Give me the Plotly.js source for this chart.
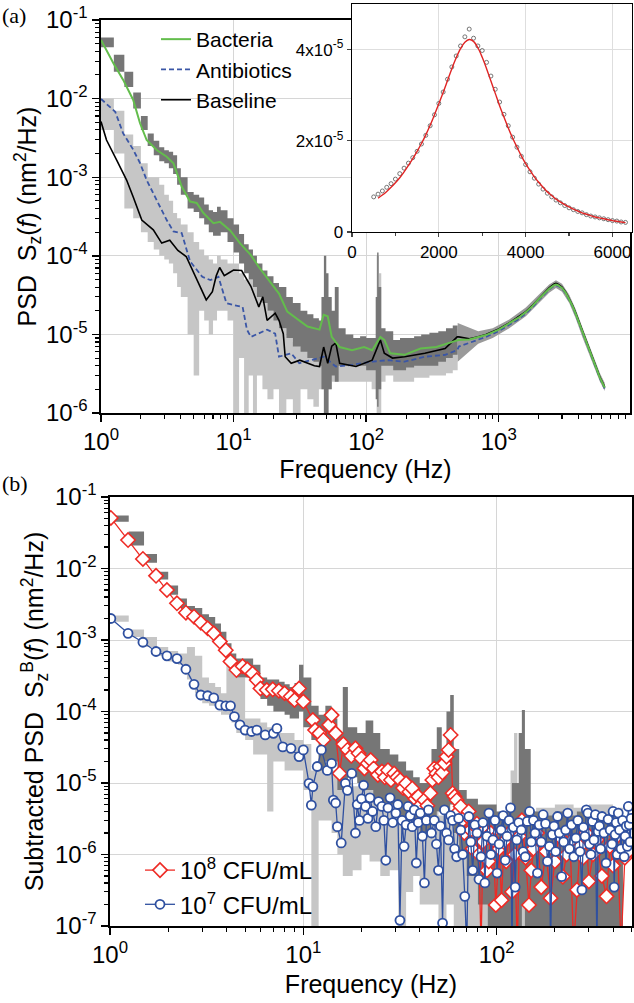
<!DOCTYPE html>
<html>
<head>
<meta charset="utf-8">
<script src="https://cdn.plot.ly/plotly-3.0.1.min.js"></script>
<style>html,body{margin:0;padding:0;background:#fff;}#chart{width:634px;height:1003px;}</style>
</head>
<body>
<div id="chart"></div>
<script>
// ---------------- Panel (a): PSD, low-frequency part (Hz, nm^2/Hz) ----------------
const aBacteriaF = [1.00,1.24,1.47,1.75,1.97,2.21,2.63,3.13,3.52,4.06,
  4.70,5.27,5.92,7.05,7.91,9.42,11.2,13.5,15.5,18.5,
  22.0,25.4,30.2,36.1,44.5,47.8,51.3,55.0,63.1,78.2,
  96.4,111,128,137,152,195,257,339,453];
const aBacteriaS = [5.57e-2,2.81e-2,1.73e-2,9.6e-3,4.85e-3,2.97e-3,2.22e-3,1.82e-3,1.50e-3,7.6e-4,
  4.9e-4,4.7e-4,3.5e-4,2.6e-4,2.7e-4,2.1e-4,1.44e-4,1.02e-4,7.2e-5,4.9e-5,
  3.3e-5,1.95e-5,1.58e-5,1.26e-5,1.15e-5,1.78e-5,1.7e-5,9.3e-6,6.9e-6,6.3e-6,
  6.9e-6,6.3e-6,9.3e-6,8.5e-6,5.75e-6,5.5e-6,6.6e-6,6.9e-6,8.1e-6];

const aAntibioticsF = [1.00,1.17,1.28,1.47,1.75,1.97,2.21,2.63,3.13,3.52,
  4.06,4.44,4.70,5.81,6.68,7.69,8.83,10.2,11.7,12.6,
  13.5,17.9,20.6,22.0,27.2,31.3,38.6,47.8,59.0,78.2,
  111,147,195,277,394,486];
const aAntibioticsS = [9.9e-3,7.9e-3,6.8e-3,3.6e-3,2.24e-3,1.51e-3,9.2e-4,5.1e-4,2.85e-4,2.04e-4,
  1.95e-4,1.17e-4,8.5e-5,5.4e-5,4.9e-5,5.4e-5,2.5e-5,2.34e-5,2.24e-5,1.15e-5,
  9.3e-6,1.15e-5,1.02e-5,5.2e-6,5.75e-6,4.3e-6,4.7e-6,5.2e-6,3.9e-6,4.1e-6,
  4.5e-6,4.7e-6,4.5e-6,5.2e-6,5.5e-6,6.3e-6];

const aBaselineF = [1.00,1.10,1.31,1.56,1.75,2.03,2.48,2.87,3.30,3.80,
  4.39,5.05,5.81,6.22,6.92,7.41,7.85,8.51,9.12,10.0,
  11.5,12.6,13.5,15.5,16.6,17.9,20.6,22.0,23.7,24.5,
  27.2,31.6,36.1,40.7,44.5,47.8,51.3,55.0,59.0,63.1,
  83.8,111,128,137,158,195,277,394,486];
const aBaselineS = [5.1e-3,2.97e-3,1.66e-3,9.2e-4,5.6e-4,2.85e-4,2.14e-4,1.45e-4,1.58e-4,1.17e-4,
  9.8e-5,6.0e-5,3.6e-5,2.75e-5,3.5e-5,5.6e-5,7.1e-5,5.6e-5,6.0e-5,6.6e-5,
  6.5e-5,5.0e-5,4.1e-5,2.24e-5,3.0e-5,1.51e-5,1.86e-5,1.51e-5,1.02e-5,5.2e-6,
  4.3e-6,4.7e-6,4.3e-6,4.0e-6,3.9e-6,6.9e-6,4.3e-6,7.1e-6,7.8e-6,4.3e-6,
  3.9e-6,4.7e-6,8.5e-6,5.75e-6,5.0e-6,5.2e-6,5.75e-6,6.6e-6,9.3e-6];

// ---------------- Panel (a): resonance part (Hz) ----------------
const aHighF = [500,600,700,800,1000,1200,1400,1600,1800,2000,2200,2400,2600,2700,
  2800,3000,3200,3400,3600,3800,4000,4300,4600,5000,5400,5800,6300];
const aBacteriaHigh = [0.85e-5,0.86e-5,0.92e-5,0.98e-5,1.15e-5,1.38e-5,1.62e-5,1.92e-5,2.30e-5,2.80e-5,3.30e-5,3.80e-5,4.20e-5,4.30e-5,
  4.22e-5,3.90e-5,3.38e-5,2.82e-5,2.30e-5,1.84e-5,1.46e-5,1.03e-5,0.76e-5,0.52e-5,0.37e-5,0.28e-5,0.21e-5];
const aBaselineHigh = [0.93e-5,0.88e-5,0.93e-5,1.00e-5,1.17e-5,1.40e-5,1.65e-5,1.95e-5,2.35e-5,2.86e-5,3.38e-5,3.90e-5,4.35e-5,4.45e-5,
  4.35e-5,4.00e-5,3.45e-5,2.88e-5,2.35e-5,1.88e-5,1.49e-5,1.05e-5,0.78e-5,0.53e-5,0.38e-5,0.285e-5,0.215e-5];
const aAntibioticsHigh = [0.70e-5,0.78e-5,0.86e-5,0.93e-5,1.10e-5,1.32e-5,1.55e-5,1.85e-5,2.22e-5,2.72e-5,3.22e-5,3.72e-5,4.12e-5,4.22e-5,
  4.15e-5,3.85e-5,3.33e-5,2.78e-5,2.27e-5,1.82e-5,1.44e-5,1.02e-5,0.75e-5,0.51e-5,0.365e-5,0.275e-5,0.205e-5];

// ---------------- Panel (a): spread bands ----------------
const aDarkF  = [1.0,1.25,1.5,1.75,2.0,2.25,2.5,2.75,3.0,3.25,3.5,3.75,
  4.0,4.5,5.0,5.5,6.0,6.5,7.0,7.5,8.0,
  9.0,10,11,12,13,14,15,
  16.5,18,20,22,25,28,32,36,40,44,
  46,48,50,52,55,58,62,
  70,80,90,100,110,
  118,121,124,130,140,
  160,180,200,230,260,300,350,400,450,490];
const aDarkLo = [4.5e-2,2.2e-2,1.4e-2,7.5e-3,4.0e-3,2.5e-3,1.9e-3,1.6e-3,1.5e-3,1.3e-3,1.1e-3,8.0e-4,
  6.0e-4,4.0e-4,3.6e-4,3.0e-4,2.5e-4,2.0e-4,1.8e-4,1.8e-4,2.0e-4,
  1.5e-4,1.1e-4,8.0e-5,6.0e-5,5.0e-5,4.0e-5,3.0e-5,
  2.5e-5,2.0e-5,1.5e-5,1.2e-5,9.0e-6,7.0e-6,6.0e-6,5.0e-6,4.5e-6,4.0e-6,
  2.0e-6,6.0e-7,8.0e-7,2.0e-6,3.0e-6,2.5e-6,4.0e-6,
  4.0e-6,4.0e-6,4.0e-6,3.5e-6,3.5e-6,
  1.5e-6,1.2e-6,2.0e-6,4.0e-6,4.0e-6,
  3.5e-6,3.5e-6,3.8e-6,4.0e-6,4.0e-6,4.0e-6,4.5e-6,5.0e-6,5.5e-6,6.0e-6];
const aDarkHi = [6.0e-2,3.6e-2,2.2e-2,1.2e-2,6.0e-3,3.6e-3,2.9e-3,2.4e-3,2.2e-3,2.1e-3,1.9e-3,1.3e-3,
  1.0e-3,6.5e-4,6.0e-4,5.5e-4,4.5e-4,3.8e-4,3.6e-4,4.2e-4,3.8e-4,
  3.0e-4,2.5e-4,1.9e-4,1.4e-4,1.2e-4,1.0e-4,8.0e-5,
  6.5e-5,5.5e-5,4.5e-5,4.0e-5,3.0e-5,2.5e-5,2.0e-5,1.8e-5,1.6e-5,1.5e-5,
  3.0e-5,1.0e-4,6.0e-5,3.0e-5,2.0e-5,4.0e-5,1.2e-5,
  1.0e-5,9.0e-6,9.5e-6,9.0e-6,9.0e-6,
  3.0e-5,1.1e-4,4.0e-5,1.2e-5,1.1e-5,
  8.5e-6,9.0e-6,9.0e-6,9.5e-6,1.0e-5,1.05e-5,1.1e-5,1.2e-5,1.3e-5,1.4e-5];

const aLightF  = [1.0,1.25,1.5,1.75,2.0,2.25,2.5,2.75,3.0,3.25,3.5,3.75,
  4.0,4.5,5.0,5.5,6.0,6.5,7.0,7.5,8.0,
  9.0,10,11,12,13,14,15,
  16.5,18,20,22,25,28,32,36,40,44,
  48,52,55,60,
  70,80,90,100,110,
  120,125,130,140,
  160,180,200,230,260,300,350,400,450,490];
const aLightLo = [4.0e-3,2.0e-3,4.0e-4,3.0e-4,2.0e-4,1.5e-4,1.2e-4,1.0e-4,9.0e-5,8.0e-5,6.0e-5,4.0e-5,
  3.0e-5,1.0e-5,3.0e-6,2.0e-5,1.5e-5,1.0e-5,1.5e-5,2.0e-5,2.0e-5,
  1.5e-5,1.0e-6,5.0e-6,9.0e-7,3.0e-6,8.0e-7,3.0e-6,
  2.0e-6,1.5e-6,2.0e-6,1.0e-6,1.5e-6,1.0e-6,2.0e-6,1.5e-6,1.2e-6,2.0e-6,
  1.0e-6,2.0e-6,2.5e-6,2.5e-6,
  2.5e-6,2.5e-6,2.5e-6,2.5e-6,2.0e-6,
  1.0e-6,8.0e-7,2.5e-6,3.0e-6,
  2.5e-6,2.5e-6,2.5e-6,2.8e-6,2.8e-6,3.0e-6,3.0e-6,3.2e-6,3.5e-6,4.0e-6];
const aLightHi = [1.0e-2,7.0e-3,3.5e-3,2.5e-3,1.5e-3,1.0e-3,1.0e-3,8.0e-4,6.0e-4,5.0e-4,3.5e-4,3.0e-4,
  2.5e-4,2.0e-4,1.5e-4,1.2e-4,1.0e-4,9.0e-5,8.0e-5,1.0e-4,9.0e-5,
  8.0e-5,8.0e-5,6.0e-5,5.0e-5,5.0e-5,4.0e-5,3.0e-5,
  2.5e-5,2.0e-5,1.8e-5,1.2e-5,9.0e-6,8.0e-6,7.0e-6,7.0e-6,7.0e-6,7.0e-6,
  1.0e-5,8.0e-6,8.0e-6,1.0e-5,
  7.0e-6,7.0e-6,7.5e-6,7.0e-6,7.0e-6,
  1.0e-4,6.0e-5,1.0e-5,8.0e-6,
  7.5e-6,7.0e-6,7.5e-6,8.0e-6,8.0e-6,8.5e-6,9.0e-6,9.5e-6,1.0e-5,1.1e-5];

const aHighBandF  = [490,700,900,1200,1600,2000,2400,2700,3000,3400,3800,4300,5000,5800,6300];
const aHighBandLo = [4.5e-6,7.6e-6,9.0e-6,1.2e-5,1.7e-5,2.5e-5,3.4e-5,3.9e-5,3.5e-5,2.5e-5,1.6e-5,9.0e-6,4.6e-6,2.5e-6,1.9e-6];
const aHighBandHi = [1.4e-5,1.1e-5,1.2e-5,1.55e-5,2.2e-5,3.2e-5,4.3e-5,4.9e-5,4.4e-5,3.2e-5,2.1e-5,1.2e-5,6.0e-6,3.2e-6,2.4e-6];

// ---------------- Inset (linear) ----------------
const insetF = [500,600,700,800,900,1000,1100,1200,1300,1400,
  1500,1600,1700,1800,1900,2000,2100,2200,2300,2400,
  2500,2600,2700,2800,2900,3000,3100,3200,3300,3400,
  3500,3600,3700,3800,3900,4000,4100,4200,4300,4400,
  4500,4600,4700,4800,4900,5000,5100,5200,5300,5400,
  5500,5600,5700,5800,5900,6000,6100,6200,6300];
const insetS = [0.77e-5,0.83e-5,0.90e-5,0.98e-5,1.06e-5,1.16e-5,1.28e-5,1.40e-5,1.51e-5,1.63e-5,
  1.77e-5,1.93e-5,2.12e-5,2.33e-5,2.57e-5,2.82e-5,3.07e-5,3.35e-5,3.62e-5,3.86e-5,
  4.08e-5,4.28e-5,4.45e-5,4.25e-5,4.08e-5,3.98e-5,3.72e-5,3.42e-5,3.13e-5,2.85e-5,
  2.58e-5,2.33e-5,2.08e-5,1.86e-5,1.66e-5,1.48e-5,1.32e-5,1.18e-5,1.05e-5,0.94e-5,
  0.85e-5,0.77e-5,0.70e-5,0.64e-5,0.58e-5,0.53e-5,0.49e-5,0.45e-5,0.42e-5,0.38e-5,
  0.35e-5,0.33e-5,0.31e-5,0.29e-5,0.27e-5,0.25e-5,0.24e-5,0.22e-5,0.21e-5];
const fitF = [600,700,800,900,1000,1100,1200,1300,1400,1500,
  1600,1700,1800,1900,2000,2100,2200,2300,2400,2500,
  2600,2700,2800,2900,3000,3100,3200,3300,3400,3500,
  3600,3700,3800,3900,4000,4100,4200,4300,4400,4500,
  4600,4700,4800,4900,5000,5100,5200,5300,5400,5500,
  5600,5700,5800,5900,6000,6100,6200,6300];
const fitS = [0.74e-5,0.81e-5,0.89e-5,0.98e-5,1.08e-5,1.19e-5,1.32e-5,1.46e-5,1.61e-5,1.77e-5,
  1.94e-5,2.13e-5,2.34e-5,2.57e-5,2.81e-5,3.06e-5,3.32e-5,3.58e-5,3.82e-5,4.02e-5,
  4.16e-5,4.22e-5,4.18e-5,4.04e-5,3.83e-5,3.58e-5,3.31e-5,3.04e-5,2.77e-5,2.52e-5,
  2.28e-5,2.06e-5,1.86e-5,1.67e-5,1.50e-5,1.35e-5,1.21e-5,1.09e-5,0.98e-5,0.88e-5,
  0.80e-5,0.72e-5,0.66e-5,0.60e-5,0.55e-5,0.50e-5,0.46e-5,0.42e-5,0.39e-5,0.36e-5,
  0.33e-5,0.31e-5,0.29e-5,0.27e-5,0.25e-5,0.235e-5,0.22e-5,0.205e-5];

// ---------------- Panel (b): subtracted PSD ----------------
const bRedF = [1.01,1.24,1.48,1.73,1.97,2.22,2.47,2.72,2.95,3.20,
  3.44,3.70,3.97,4.20,4.51,4.85,5.13,5.46,5.74,6.00,
  6.47,6.95,7.47,8.00,8.60,9.00,9.50,10.0,11.2,11.5,
  12.1,12.7,13.6,14.0,14.7,15.4,16.1,16.9,17.7,18.6,
  19.3,20.0,20.7,21.5,22.3,23.1,24.3,25.5,26.4,27.4,
  28.4,29.5,30.6,31.7,32.8,34.0,35.3,36.6,37.9,39.3,
  40.7,42.2,43.8,45.4,46.5,47.6,48.8,50.0,51.2,52.4,
  53.7,55.0,56.4,57.8,59.2,60.6,62.1,63.6,65.2,66.6,
  68.0,69.8,71.7,73.3,75.0,77.0,79.0,81.0,83.0,85.0,
  86.9,89.0,91.0,93.3,95.7,99.0,103,106,109,112,
  116,120,124,128,131,135,141,147,151,155,
  162,170,180,190,200,210,220,230,240,250,
  260,270,280,290,300,315,330,350,370,385,
  400,420,440,460,480,495];
const bRedS = [5.1e-2,2.5e-2,1.36e-2,7.9e-3,5.0e-3,3.26e-3,2.41e-3,2.12e-3,1.75e-3,1.46e-3,
  1.24e-3,9.5e-4,7.2e-4,5.0e-4,3.8e-4,4.3e-4,3.9e-4,3.4e-4,2.75e-4,2.1e-4,
  2.0e-4,2.04e-4,1.95e-4,1.8e-4,1.62e-4,1.45e-4,2.1e-4,1.38e-4,7.6e-5,5.5e-5,
  4.95e-5,4.0e-5,6.5e-5,8.9e-5,4.95e-5,1.36e-5,3.5e-5,2.9e-5,2.4e-5,3.05e-5,
  2.6e-5,2.2e-5,1.6e-5,1.88e-5,2.1e-5,1.6e-5,1.3e-5,1.45e-5,1.2e-5,1.51e-5,
  1.1e-5,1.36e-5,1.2e-5,1.1e-5,8.5e-6,9.9e-6,7.5e-6,8.4e-6,6.0e-6,6.5e-6,
  5.0e-6,5.75e-6,4.8e-6,7.2e-6,1.1e-5,1.6e-5,1.36e-5,1.2e-5,1.7e-5,1.4e-5,
  1.88e-5,2.34e-5,2.9e-5,4.7e-5,7.2e-6,6.5e-6,5.75e-6,4.0e-6,4.7e-6,3.0e-6,
  2.0e-6,3.5e-6,4.0e-6,2.2e-6,1.2e-6,2.5e-6,2.7e-6,1.0e-6,5e-8,1.5e-6,
  2.2e-6,6e-7,8e-7,2.0e-6,1.6e-6,1.97e-7,1.2e-6,2.3e-7,1.5e-6,8e-7,
  2.0e-6,3.0e-7,1.0e-6,5e-8,1.8e-6,3.0e-6,9e-7,1.97e-7,6e-7,1.2e-6,
  2.0e-6,3.5e-7,1.1e-6,2.45e-7,8e-7,1.8e-6,4.9e-7,1.0e-6,1.5e-6,5e-8,
  3.2e-7,1.3e-6,9e-7,2.0e-6,4.2e-7,1.0e-6,1.6e-6,5e-7,2.6e-7,1.3e-6,
  7e-7,1.8e-6,5e-8,9e-7,1.1e-6,2.0e-6];

const bBlueF = [1.01,1.24,1.48,1.73,1.97,2.22,2.47,2.72,2.95,3.20,
  3.44,3.70,3.97,4.20,4.40,4.70,5.00,5.40,5.75,6.35,
  7.00,7.30,7.83,8.63,9.50,10.0,10.7,11.0,11.2,11.8,
  12.4,13.3,14.0,14.3,14.7,15.0,15.7,16.5,16.9,17.8,
  18.6,19.0,19.5,20.0,20.5,21.0,21.6,22.1,22.8,23.7,
  24.5,25.5,26.1,26.7,27.4,28.1,29.0,30.1,30.8,31.6,
  32.4,33.2,34.0,34.8,35.7,36.6,37.5,38.4,39.3,40.3,
  41.3,42.3,43.3,44.4,46.0,47.6,48.8,50.0,51.2,52.5,
  53.7,55.0,56.4,57.8,59.2,60.6,62.1,63.6,65.2,66.8,
  68.4,70.0,71.8,73.5,75.2,77.1,79.1,81.0,83.0,84.9,
  86.9,89.0,91.2,93.4,95.7,98.0,100.5,103,105.4,108,
  110.7,113,116,118,120,122,124.7,127,130,134,
  137,140.6,144,148,151,155,158,162.5,166,170,
  174,179,183,187.5,190,194,198,202,206.5,211,
  216.8,222,227.5,233,238,244,250.6,257,263,270,
  276,281,286,291,296.5,302,307,313,318.4,324,
  330,335,340,345,350.8,359,368,377,386.4,395,
  400,405.5,410,415,420,425.6,432,440,448,457,
  462,468,474,479.7,485,490,496];
const bBlueS = [2.0e-3,1.24e-3,9.3e-4,6.9e-4,6.0e-4,5.5e-4,3.9e-4,2.4e-4,1.7e-4,1.66e-4,
  1.55e-4,1.23e-4,1.2e-4,1.2e-4,8.5e-5,6.5e-5,5.5e-5,5.25e-5,5.5e-5,4.7e-5,
  4.95e-5,5.8e-5,3.2e-5,3.05e-5,2.34e-5,2.9e-5,9.9e-6,4.9e-6,8.9e-6,1.7e-5,
  2.9e-5,1.5e-5,1.88e-5,5.75e-6,5.25e-6,2.45e-6,1.45e-6,9.9e-6,7.9e-6,1.36e-5,
  2.0e-6,5.0e-6,3.0e-6,6.0e-6,9.3e-6,4.7e-6,3.2e-6,6.2e-6,4.0e-6,2.45e-6,
  5.5e-6,4.7e-6,3.0e-6,8.3e-7,4.5e-6,6.2e-6,2.8e-6,3.8e-6,5.0e-6,1.2e-7,
  3.0e-6,1.3e-6,2.6e-6,4.7e-6,3.5e-6,2.45e-6,4.2e-6,7.6e-7,2.8e-6,3.8e-6,
  1.8e-6,4.0e-7,3.0e-6,4.2e-6,2.0e-6,3.0e-6,1.4e-6,6.0e-7,2.5e-6,1.1e-7,
  4.2e-6,2.0e-6,1.6e-6,3.5e-6,3.0e-6,1.2e-6,9.3e-7,3.2e-6,2.2e-6,1.0e-6,
  2.6e-7,5e-8,3.4e-6,1.5e-6,6.0e-7,2.6e-6,2.0e-6,4.5e-7,9.3e-7,2.8e-6,
  4.0e-7,1.8e-6,3.8e-6,1.0e-6,1.6e-6,3.0e-6,5.5e-7,1.4e-6,2.2e-6,3.5e-6,
  8.3e-7,1.8e-6,3.0e-6,4.5e-6,5e-8,2.4e-6,3.5e-7,1.6e-6,2.8e-6,2.2e-6,
  1.1e-6,9.3e-7,2.9e-6,4.0e-6,1.5e-6,3.0e-6,2.0e-6,5.5e-7,2.6e-6,1.5e-6,
  3.6e-6,2.7e-6,8e-7,1.3e-6,5e-8,1.9e-6,2.5e-6,1.1e-6,3.4e-6,2.0e-6,
  4.9e-7,1.5e-6,2.2e-6,3.8e-6,1.2e-6,2.6e-6,9.3e-7,1.7e-6,3.0e-6,1.1e-6,
  3.2e-7,2.4e-6,1.8e-6,4.2e-6,3.8e-6,1.4e-6,1.0e-6,2.9e-6,1.6e-6,3.6e-6,
  5e-8,2.1e-6,2.5e-6,1.2e-6,3.4e-6,2.0e-6,7.6e-7,3.1e-6,2.2e-6,1.4e-6,
  4.0e-6,3.5e-7,1.9e-6,2.8e-6,1.0e-6,3.8e-6,2.2e-6,1.2e-6,3.0e-6,9.3e-7,
  1.8e-6,2.5e-6,1.3e-6,4.7e-6,2.6e-6,1.5e-6,3.2e-6];

const bDarkF  = [1.0,1.25,1.5,1.75,2.0,2.25,2.5,2.75,3.0,3.25,3.5,3.75,
  4.0,4.25,4.5,
  5.0,5.5,6.0,6.5,7.0,7.5,8.0,8.5,9.0,9.5,
  10,11,12,13,14,15,16,17,19,21,23,25,
  28,31,34,37,40,43,46,49,52,55,57.5,60,64,
  70,80,90,100,110,120,130,135,140,150,
  170,200,230,260,300,350,400,450];
const bDarkLo = [4.5e-2,2.1e-2,1.2e-2,7.0e-3,4.3e-3,2.8e-3,2.0e-3,1.7e-3,1.4e-3,1.1e-3,9.0e-4,7.0e-4,
  5.5e-4,3.5e-4,3.0e-4,
  3.0e-4,2.5e-4,1.5e-4,1.2e-4,1.0e-4,1.0e-4,9.0e-5,8.0e-5,8.0e-5,1.0e-4,
  6.0e-5,4.0e-5,1.5e-5,2.0e-5,2.0e-5,8.0e-6,1.0e-5,1.2e-5,1.0e-5,8.0e-6,6.0e-6,5.0e-6,
  5.0e-6,3.0e-6,3.0e-6,2.5e-6,2.0e-6,2.0e-6,3.0e-6,4.0e-6,4.0e-6,4.0e-6,5.0e-6,2.0e-6,1.0e-6,
  5.0e-7,2.0e-7,5e-8,5e-8,5e-8,5e-8,5e-8,2.0e-7,5e-8,5e-8,
  5e-8,5e-8,5e-8,5e-8,5e-8,5e-8,5e-8,5e-8];
const bDarkHi = [5.5e-2,3.3e-2,1.6e-2,9.0e-3,5.8e-3,3.8e-3,3.0e-3,2.8e-3,2.3e-3,2.1e-3,1.7e-3,1.3e-3,
  9.0e-4,6.5e-4,5.5e-4,
  5.5e-4,4.5e-4,3.0e-4,2.8e-4,2.8e-4,2.6e-4,2.4e-4,2.2e-4,2.5e-4,4.5e-4,
  3.0e-4,1.2e-4,9.0e-5,1.2e-4,8.0e-5,5.0e-5,2.2e-4,6.0e-5,5.0e-5,7.5e-5,5.0e-5,3.0e-5,
  2.5e-5,2.0e-5,1.5e-5,1.2e-5,1.0e-5,1.0e-5,3.0e-5,6.0e-5,2.5e-5,1.0e-4,1.7e-4,3.0e-5,8.0e-6,
  6.0e-6,5.0e-6,5.0e-6,4.0e-6,4.0e-6,1.0e-5,5.0e-5,1.05e-4,3.0e-5,4.0e-6,
  3.5e-6,4.0e-6,3.5e-6,4.0e-6,3.5e-6,3.5e-6,4.0e-6,4.0e-6];

const bLightF  = [1.0,1.25,1.5,1.75,2.0,2.25,2.5,2.75,3.0,3.25,3.5,3.75,
  4.0,4.25,4.5,
  5.0,5.5,6.0,6.5,7.0,7.5,8.0,
  9.0,10,11,12,13,14,15,16,
  18,20,22,25,28,31,34,37,40,45,
  50,55,60,70,80,90,100,110,
  118,123,128,140,160,200,250,300,350,400,450];
const bLightLo = [1.8e-3,1.1e-3,8.0e-4,6.0e-4,5.0e-4,4.5e-4,2.8e-4,1.8e-4,1.3e-4,1.2e-4,1.1e-4,9.0e-5,
  9.0e-5,7.0e-5,5.0e-5,
  4.0e-5,2.5e-5,2.5e-5,4.0e-6,2.0e-5,2.0e-5,1.5e-5,
  1.5e-5,8.0e-6,5e-8,3.0e-6,3.0e-6,2.0e-6,1.0e-6,5.0e-7,
  6.0e-7,1.0e-6,8.0e-7,5.0e-7,6.0e-7,5e-8,3.0e-7,5.0e-7,2.0e-7,2.0e-7,
  1.0e-7,2.0e-7,5e-8,5e-8,5e-8,5e-8,5e-8,5e-8,
  5e-8,5e-8,5e-8,5e-8,5e-8,5e-8,5e-8,5e-8,5e-8,5e-8,5e-8];
const bLightHi = [2.2e-3,1.4e-3,1.1e-3,8.0e-4,7.0e-4,6.5e-4,8.0e-4,6.0e-4,3.0e-4,2.5e-4,2.2e-4,1.8e-4,
  7.0e-4,5.0e-4,3.0e-4,
  8.0e-5,8.0e-5,7.0e-5,6.0e-5,6.0e-5,5.0e-5,5.0e-5,
  4.0e-5,3.5e-5,1.5e-5,2.5e-5,2.0e-5,1.5e-5,1.2e-5,1.0e-5,
  9.0e-6,1.2e-5,8.0e-6,6.0e-6,6.0e-6,5.0e-6,5.0e-6,4.0e-6,4.0e-6,4.0e-6,
  3.5e-6,3.5e-6,3.0e-6,3.0e-6,3.0e-6,3.5e-6,3.5e-6,4.0e-6,
  1.5e-5,5.0e-5,8.0e-6,4.0e-6,4.5e-6,5.0e-6,4.5e-6,5.0e-6,5.0e-6,4.5e-6,5.0e-6];

// ---------------- tick labels ----------------
const aXTickVals = [1,10,100,1000];
const aXTickText = ['10<sup>0</sup>','10<sup>1</sup>','10<sup>2</sup>','10<sup>3</sup>'];
const aYTickVals = [1e-1,1e-2,1e-3,1e-4,1e-5,1e-6];
const aYTickText = ['10<sup>-1</sup>','10<sup>-2</sup>','10<sup>-3</sup>','10<sup>-4</sup>','10<sup>-5</sup>','10<sup>-6</sup>'];
const bXTickVals = [1,10,100];
const bXTickText = ['10<sup>0</sup>','10<sup>1</sup>','10<sup>2</sup>'];
const bYTickVals = [1e-1,1e-2,1e-3,1e-4,1e-5,1e-6,1e-7];
const bYTickText = ['10<sup>-1</sup>','10<sup>-2</sup>','10<sup>-3</sup>','10<sup>-4</sup>','10<sup>-5</sup>','10<sup>-6</sup>','10<sup>-7</sup>'];
const inXTickVals = [0,2000,4000,6000];
const inYTickVals = [0,2e-5,4e-5];
const inYTickText = ['0','2x10<sup>-5</sup>','4x10<sup>-5</sup>'];

// ---------------- build ----------------
function band(f, lo, hi, color, xa, ya) {
  return [
    {x: f, y: lo, xaxis: xa, yaxis: ya, type: 'scatter', mode: 'lines',
     line: {width: 0, shape: 'hv'}, showlegend: false, hoverinfo: 'skip'},
    {x: f, y: hi, xaxis: xa, yaxis: ya, type: 'scatter', mode: 'lines',
     line: {width: 0, shape: 'hv'}, fill: 'tonexty', fillcolor: color, showlegend: false, hoverinfo: 'skip'}
  ];
}
const LIGHT = '#c6c6c6', DARK = '#767676';
const traces = [];
traces.push(...band(aLightF, aLightLo, aLightHi, LIGHT, 'x', 'y'));
traces.push(...band(aDarkF, aDarkLo, aDarkHi, DARK, 'x', 'y'));
traces.push({x: aHighBandF.concat(aHighBandF.slice().reverse()),
             y: aHighBandLo.concat(aHighBandHi.slice().reverse()),
             xaxis: 'x', yaxis: 'y', mode: 'lines', fill: 'toself', fillcolor: '#9a9a9a',
             line: {width: 0}, showlegend: false, hoverinfo: 'skip'});
traces.push({x: aAntibioticsF.concat(aHighF), y: aAntibioticsS.concat(aAntibioticsHigh),
             xaxis: 'x', yaxis: 'y', mode: 'lines', name: 'Antibiotics', legend: 'legend', legendrank: 2,
             line: {color: '#3a56a6', width: 1.8, dash: '5px,3px'}});
traces.push({x: aBaselineF.concat(aHighF), y: aBaselineS.concat(aBaselineHigh),
             xaxis: 'x', yaxis: 'y', mode: 'lines', name: 'Baseline', legend: 'legend', legendrank: 3,
             line: {color: '#000000', width: 1.6}});
traces.push({x: aBacteriaF.concat(aHighF), y: aBacteriaS.concat(aBacteriaHigh),
             xaxis: 'x', yaxis: 'y', mode: 'lines', name: 'Bacteria', legend: 'legend', legendrank: 1,
             line: {color: '#63bd4c', width: 2}});
// panel b
traces.push(...band(bLightF, bLightLo, bLightHi, LIGHT, 'x2', 'y2'));
traces.push(...band(bDarkF, bDarkLo, bDarkHi, DARK, 'x2', 'y2'));
traces.push({x: bRedF, y: bRedS, xaxis: 'x2', yaxis: 'y2', mode: 'lines+markers',
             name: '10<sup>8</sup> CFU/mL', legend: 'legend2', legendrank: 1,
             line: {color: '#ee2b25', width: 1.3},
             marker: {symbol: 'diamond', size: 11, color: '#ffffff', line: {color: '#ee2b25', width: 1.6}}});
traces.push({x: bBlueF, y: bBlueS, xaxis: 'x2', yaxis: 'y2', mode: 'lines+markers',
             name: '10<sup>7</sup> CFU/mL', legend: 'legend2', legendrank: 2,
             line: {color: '#2f50a0', width: 1.3},
             marker: {symbol: 'circle', size: 9, color: '#ffffff', line: {color: '#2f50a0', width: 1.8}}});
// inset
traces.push({x: insetF, y: insetS, xaxis: 'x3', yaxis: 'y3', mode: 'markers', showlegend: false,
             marker: {symbol: 'circle-open', size: 4, color: '#555555', line: {width: 0.8}}});
traces.push({x: fitF, y: fitS, xaxis: 'x3', yaxis: 'y3', mode: 'lines', showlegend: false,
             line: {color: '#e02424', width: 1.4, shape: 'spline'}});

const W = 634, H = 1003;
const px = v => v / W, py = v => 1 - v / H;
const FONT = 'Liberation Sans, Arial, Helvetica, sans-serif';
function logAxis(extra) {
  return Object.assign({
    type: 'log', ticks: 'outside', ticklen: 7, tickwidth: 1.4, tickcolor: '#000',
    minor: {ticks: 'outside', ticklen: 4, tickwidth: 1.1, dtick: 'D1', tickcolor: '#000', showgrid: false},
    showgrid: true, gridcolor: '#d6d6d6', gridwidth: 1,
    showline: true, linecolor: '#000', linewidth: 1.6, mirror: true, zeroline: false,
    tickfont: {size: 24, family: FONT, color: '#000'}, automargin: false
  }, extra);
}
const layout = {
  width: W, height: H, margin: {l: 0, r: 0, t: 0, b: 0},
  paper_bgcolor: '#ffffff', plot_bgcolor: '#ffffff',
  font: {family: FONT, color: '#000'},
  xaxis: logAxis({domain: [px(101), px(630)], range: [0, 3.99], anchor: 'y',
    tickmode: 'array', tickvals: aXTickVals, ticktext: aXTickText,
    title: {text: 'Frequency (Hz)', font: {size: 25, family: FONT}, standoff: 4}}),
  yaxis: logAxis({domain: [py(413), py(20)], range: [-6, -1], anchor: 'x',
    tickmode: 'array', tickvals: aYTickVals, ticktext: aYTickText,
    title: {text: 'PSD  S<sub>z</sub>(<i>f</i>) (nm<sup>2</sup>/Hz)', font: {size: 25, family: FONT}, standoff: 2}}),
  xaxis2: logAxis({domain: [px(110), px(632)], range: [0, 2.70], anchor: 'y2',
    tickmode: 'array', tickvals: bXTickVals, ticktext: bXTickText,
    title: {text: 'Frequency (Hz)', font: {size: 25, family: FONT}, standoff: 8}}),
  yaxis2: logAxis({domain: [py(926), py(497)], range: [-7, -1], anchor: 'x2',
    tickmode: 'array', tickvals: bYTickVals, ticktext: bYTickText,
    title: {text: 'Subtracted PSD  S<sub>z</sub><sup>B</sup>(<i>f</i>) (nm<sup>2</sup>/Hz)', font: {size: 25, family: FONT}, standoff: 4}}),
  xaxis3: {domain: [px(352), px(632)], range: [0, 6450], anchor: 'y3',
    tickmode: 'array', tickvals: inXTickVals, ticks: 'outside', ticklen: 4, tickwidth: 1.1,
    minor: {ticks: 'outside', ticklen: 3, dtick: 1000, tick0: 0, showgrid: false},
    showgrid: true, gridcolor: '#dedede', showline: true, linecolor: '#000', linewidth: 1.3, mirror: true,
    zeroline: false, tickfont: {size: 17, family: FONT}, automargin: false},
  yaxis3: {domain: [py(232), py(4)], range: [0, 5e-5], anchor: 'x3',
    tickmode: 'array', tickvals: inYTickVals, ticktext: inYTickText, ticks: 'outside', ticklen: 4, tickwidth: 1.1,
    showgrid: true, gridcolor: '#dedede', showline: true, linecolor: '#000', linewidth: 1.3, mirror: true,
    zeroline: false, tickfont: {size: 17, family: FONT}, automargin: false},
  legend: {x: px(156), y: py(19), xanchor: 'left', yanchor: 'top', bgcolor: 'rgba(0,0,0,0)',
    font: {size: 21, family: FONT}, tracegroupgap: 0, borderwidth: 0, traceorder: 'normal'},
  legend2: {x: px(140), y: py(848), xanchor: 'left', yanchor: 'top', bgcolor: 'rgba(0,0,0,0)',
    font: {size: 24, family: FONT}, tracegroupgap: 0, borderwidth: 0, traceorder: 'normal'},
  annotations: [
    {text: '(a)', x: 0, y: py(16), xref: 'paper', yref: 'paper', xanchor: 'left', yanchor: 'middle',
     showarrow: false, font: {size: 22, family: 'Liberation Serif, Times New Roman, serif'}},
    {text: '(b)', x: 0, y: py(483), xref: 'paper', yref: 'paper', xanchor: 'left', yanchor: 'middle',
     showarrow: false, font: {size: 22, family: 'Liberation Serif, Times New Roman, serif'}}
  ]
};
Plotly.newPlot('chart', traces, layout, {displayModeBar: false, staticPlot: true});
</script>
</body>
</html>
